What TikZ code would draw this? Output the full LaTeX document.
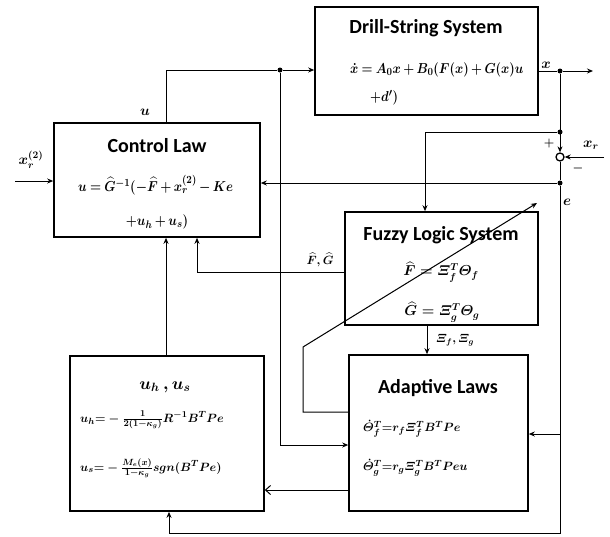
\documentclass[tikz,border=0pt]{standalone}
\usepackage{amsmath,bm}
\usepackage{fontspec}
\setsansfont{Carlito}
\usetikzlibrary{arrows.meta}
\newcommand\tightmu{\medmuskip=3mu\relax\thickmuskip=4mu\relax}
\begin{document}
\begin{tikzpicture}[x=1pt,y=-1pt,
 box/.style={draw,line width=1.6pt,inner sep=0pt},
 conn/.style={line width=1pt},
 arr/.style={conn,-{Stealth[length=6pt,width=5pt]}},
 ttl/.style={font=\sffamily\bfseries\fontsize{20}{22}\selectfont,inner sep=0pt},
 eq/.style={font=\boldmath\fontsize{14}{16}\selectfont,inner sep=0pt},
 beq/.style={font=\boldmath\fontsize{15}{17}\selectfont,inner sep=0pt},
 seq/.style={font=\boldmath\fontsize{13}{15}\selectfont,inner sep=0pt},
 lab/.style={font=\boldmath\fontsize{12}{14}\selectfont,inner sep=0pt},
 dot/.style={circle,fill,inner sep=0pt,minimum size=5pt}]
\useasboundingbox (0,0) rectangle (610,536);
% boxes
\node[box,minimum width=223pt,minimum height=108pt] (drill) at (426.5,61) {};
\node[box,minimum width=206pt,minimum height=114pt] (ctrl) at (157,180) {};
\node[box,minimum width=193pt,minimum height=113pt] (fuzzy) at (441.5,268.5) {};
\node[box,minimum width=179pt,minimum height=156pt] (adapt) at (438.5,433) {};
\node[box,minimum width=194pt,minimum height=155pt] (uhbox) at (167,433.5) {};
% texts
\node[ttl] (t1) at (426,28) {Drill-String System};
\node[beq,anchor=west] (e1) at (350,70) {\scalebox{0.87}[1]{$\tightmu\dot{x} = A_0x + B_0(F(x) + G(x)u$}};
\node[beq,anchor=west] (e2) at (370,98) {\scalebox{0.87}[1]{$+d')$}};
\node[ttl] (t2) at (157,146) {Control Law};
\node[beq,anchor=west] (e3) at (78,185) {\scalebox{0.88}[1]{$\tightmu u = \widehat{G}^{-1}(-\widehat{F} + x_r^{(2)} - Ke$}};
\node[beq] (e4) at (157,222) {\scalebox{0.88}[1]{$\tightmu +u_h + u_s)$}};
\node[ttl] (t3) at (441,235) {Fuzzy Logic System};
\node[eq] (e5) at (441,272) {$\widehat{F} = \varXi_f^T\varTheta_f$};
\node[eq] (e6) at (442,312) {$\widehat{G} = \varXi_g^T\varTheta_g$};
\node[ttl] (t4) at (438,388) {Adaptive Laws};
\node[seq,anchor=west] (e7) at (363,429) {$\dot{\varTheta}_f^T{=}r_f\varXi_f^TB^TPe$};
\node[seq,anchor=west] (e8) at (363,468) {$\dot{\varTheta}_g^T{=}r_g\varXi_g^TB^TPeu$};
\node[font=\boldmath\fontsize{18}{20}\selectfont,inner sep=0pt] (t5) at (165,387) {$u_h\,,u_s$};
\node[seq,anchor=west] (e9) at (80,420) {$u_h{=}-\frac{1}{2(1-\kappa_g)}R^{-1}B^TPe$};
\node[seq,anchor=west] (e10) at (80,468) {$u_s{=}-\frac{M_e(x)}{1-\kappa_g}sgn(B^TPe)$};
% labels
\node[eq] (lu) at (145,112) {$u$};
\node[eq] (lx) at (546,65) {$x$};
\node[eq] (lxr2) at (31,160) {$x_r^{(2)}$};
\node[eq] (lxr) at (591,145) {$x_r$};
\node[lab] (lp) at (549,143) {$+$};
\node[lab] (lm) at (578,168) {$-$};
\node[eq] (le) at (567,202) {$e$};
\node[lab] (lfg) at (320,260) {$\widehat{F},\widehat{G}$};
\node[lab] (lxi) at (455,340) {$\varXi_f,\varXi_g$};
% junctions
\node[dot] (j1) at (280,70) {};
\node[dot] (j2) at (560,71) {};
\node[dot] (j3) at (560,132) {};
\node[dot] (j4) at (560,183) {};
\node[draw,circle,line width=1.3pt,minimum size=8pt,inner sep=0pt] (sum) at (560,157) {};
% connectors
\coordinate (uTop) at (166,70);
\draw[conn] (ctrl.north -| uTop) -- (uTop) -- (j1);
\draw[arr] (j1) -- (j1 -| drill.west);
\coordinate (b1) at (280,445);
\draw[arr] (j1) -- (b1) -- (b1 -| adapt.west);
\draw[conn] (j2 -| drill.east) -- (j2);
\coordinate (xout) at (593,71);
\draw[arr] (j2) -- (xout);
\draw[arr] (j2) -- (sum.north);
\coordinate (fz) at (425,132);
\draw[arr] (j3) -- (fz) -- (fz |- fuzzy.north);
\coordinate (xr) at (604,157);
\draw[arr] (xr) -- (sum.east);
\draw[conn] (sum.south) -- (j4);
\draw[arr] (j4) -- (j4 -| ctrl.east);
\coordinate (br) at (560,533);
\coordinate (bl) at (169,533);
\draw[conn] (j4) -- (br) -- (bl);
\draw[arr] (bl) -- (bl |- uhbox.south);
\coordinate (ar) at (560,434);
\draw[arr] (ar) -- (ar -| adapt.east);
\coordinate (fh) at (197,272);
\draw[arr] (fh -| fuzzy.west) -- (fh) -- (fh |- ctrl.south);
\coordinate (xi) at (427,325);
\draw[arr] (xi |- fuzzy.south) -- (xi |- adapt.north);
\coordinate (au) at (349,490);
\draw[conn,-{Straight Barb[length=5pt,width=9pt]}] (au -| adapt.west) -- (au -| uhbox.east);
\coordinate (uc) at (166,356);
\draw[arr] (uc |- uhbox.north) -- (uc |- ctrl.south);
\coordinate (d1) at (303,412);
\coordinate (d2) at (303,347);
\coordinate (d3) at (537,203);
\draw[arr] (d1 -| adapt.west) -- (d1) -- (d2) -- (d3);
\coordinate (xr2) at (15,181);
\draw[arr] (xr2) -- (xr2 -| ctrl.west);
\end{tikzpicture}
\end{document}
